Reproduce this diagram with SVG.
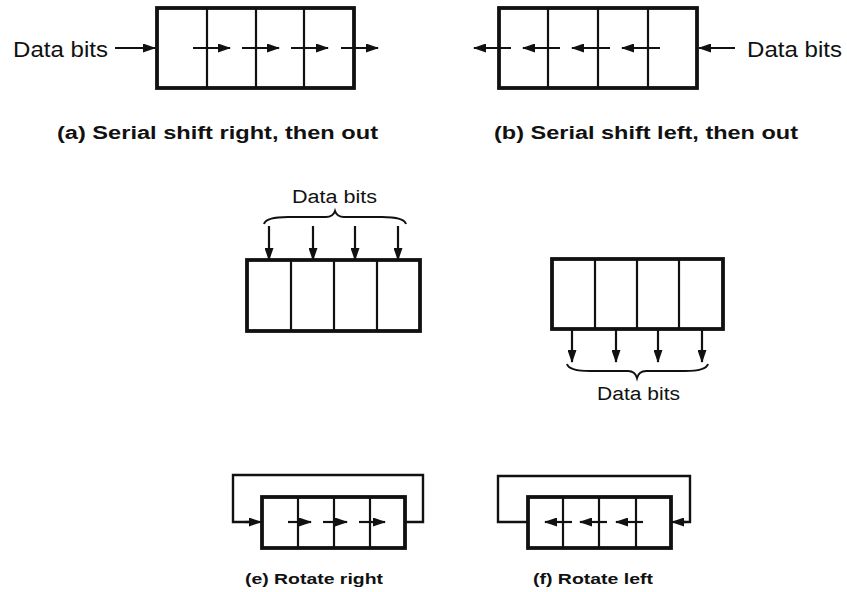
<svg xmlns="http://www.w3.org/2000/svg" width="847" height="592" viewBox="0 0 847 592">
<style>
.box{fill:#fff;stroke:#111;stroke-width:3.8}
.div{stroke:#111;stroke-width:2.2}
.arr{stroke:#111;stroke-width:2.2;fill:none;marker-end:url(#ah)}
.loop{stroke:#111;stroke-width:2.4;fill:none}
.brace{stroke:#111;stroke-width:2;fill:none}
.lbl{font-family:"Liberation Sans",Arial,sans-serif;fill:#111}
.cap{font-family:"Liberation Sans",Arial,sans-serif;font-weight:bold;fill:#111}
</style>
<defs>
<marker id="ah" markerUnits="userSpaceOnUse" markerWidth="13" markerHeight="9" refX="12" refY="4.5" orient="auto">
<path d="M0,0 L13,4.5 L0,9 z" fill="#111"/>
</marker>
</defs>
<rect width="847" height="592" fill="#fff"/>

<g id="reg-a">
<rect class="box" x="157" y="8" width="197" height="80"/>
<line class="div" x1="207" y1="8" x2="207" y2="88"/>
<line class="div" x1="256" y1="8" x2="256" y2="88"/>
<line class="div" x1="304" y1="8" x2="304" y2="88"/>
<text class="lbl" x="13" y="57" font-size="22" textLength="95" lengthAdjust="spacingAndGlyphs">Data bits</text>
<text class="cap" x="57" y="139" font-size="18" textLength="321" lengthAdjust="spacingAndGlyphs">(a) Serial shift right, then out</text>
</g>

<g id="reg-b">
<rect class="box" x="499" y="8" width="198" height="80"/>
<line class="div" x1="548" y1="8" x2="548" y2="88"/>
<line class="div" x1="598" y1="8" x2="598" y2="88"/>
<line class="div" x1="648" y1="8" x2="648" y2="88"/>
<text class="lbl" x="747" y="57" font-size="22" textLength="95" lengthAdjust="spacingAndGlyphs">Data bits</text>
<text class="cap" x="494" y="139" font-size="18" textLength="304" lengthAdjust="spacingAndGlyphs">(b) Serial shift left, then out</text>
</g>

<g id="reg-c">
<rect class="box" x="247" y="260" width="173" height="71"/>
<line class="div" x1="291" y1="260" x2="291" y2="331"/>
<line class="div" x1="334" y1="260" x2="334" y2="331"/>
<line class="div" x1="377" y1="260" x2="377" y2="331"/>
<text class="lbl" x="292" y="203" font-size="18" textLength="85" lengthAdjust="spacingAndGlyphs">Data bits</text>
<path class="brace" d="M264,224 Q266,217 288,217 L326,217 Q333,217 335,211 Q337,217 344,217 L382,217 Q404,217 406,224"/>
</g>

<g id="reg-d">
<rect class="box" x="552" y="259" width="171" height="70"/>
<line class="div" x1="595" y1="259" x2="595" y2="329"/>
<line class="div" x1="637" y1="259" x2="637" y2="329"/>
<line class="div" x1="679" y1="259" x2="679" y2="329"/>
<text class="lbl" x="597" y="400" font-size="18" textLength="83" lengthAdjust="spacingAndGlyphs">Data bits</text>
<path class="brace" d="M567,364 Q569,371 590,371 L628,371 Q635,371 637,378 Q639,371 646,371 L685,371 Q706,371 708,364"/>
</g>

<g id="reg-e">
<rect class="box" x="262" y="497" width="143" height="51"/>
<line class="div" x1="298" y1="497" x2="298" y2="548"/>
<line class="div" x1="334" y1="497" x2="334" y2="548"/>
<line class="div" x1="370" y1="497" x2="370" y2="548"/>
<text class="cap" x="245" y="584" font-size="14" textLength="138" lengthAdjust="spacingAndGlyphs">(e) Rotate right</text>
</g>

<g id="reg-f">
<rect class="box" x="528" y="497" width="143" height="51"/>
<line class="div" x1="563" y1="497" x2="563" y2="548"/>
<line class="div" x1="599" y1="497" x2="599" y2="548"/>
<line class="div" x1="636" y1="497" x2="636" y2="548"/>
<text class="cap" x="533" y="584" font-size="14" textLength="120" lengthAdjust="spacingAndGlyphs">(f) Rotate left</text>
</g>

<g id="connectors">
<!-- (a) -->
<line class="arr" x1="115" y1="48" x2="155" y2="48"/>
<line class="arr" x1="193" y1="48" x2="230" y2="48"/>
<line class="arr" x1="242" y1="48" x2="279" y2="48"/>
<line class="arr" x1="291" y1="48" x2="328" y2="48"/>
<line class="arr" x1="341" y1="48" x2="378" y2="48"/>
<!-- (b) -->
<line class="arr" x1="735" y1="48" x2="699" y2="48"/>
<line class="arr" x1="660" y1="48" x2="622" y2="48"/>
<line class="arr" x1="610" y1="48" x2="572" y2="48"/>
<line class="arr" x1="560" y1="48" x2="523" y2="48"/>
<line class="arr" x1="511" y1="48" x2="474" y2="48"/>
<!-- (c) -->
<line class="arr" x1="269" y1="226" x2="269" y2="260"/>
<line class="arr" x1="313" y1="226" x2="313" y2="260"/>
<line class="arr" x1="355" y1="226" x2="355" y2="260"/>
<line class="arr" x1="398" y1="226" x2="398" y2="260"/>
<!-- (d) -->
<line class="arr" x1="572" y1="330" x2="572" y2="362"/>
<line class="arr" x1="616" y1="330" x2="616" y2="362"/>
<line class="arr" x1="658" y1="330" x2="658" y2="362"/>
<line class="arr" x1="702" y1="330" x2="702" y2="362"/>
<!-- (e) -->
<path class="loop" d="M405,522 H423 V475 H233 V522 H250"/>
<line class="arr" x1="245" y1="522" x2="261" y2="522"/>
<line class="arr" x1="288" y1="522" x2="311" y2="522"/>
<line class="arr" x1="323" y1="522" x2="347" y2="522"/>
<line class="arr" x1="359" y1="522" x2="385" y2="522"/>
<!-- (f) -->
<path class="loop" d="M528,522 H498 V476 H690 V522 H680"/>
<line class="arr" x1="686" y1="522" x2="672" y2="522"/>
<line class="arr" x1="572" y1="522" x2="545" y2="522"/>
<line class="arr" x1="607" y1="522" x2="580" y2="522"/>
<line class="arr" x1="643" y1="522" x2="616" y2="522"/>
</g>
</svg>
